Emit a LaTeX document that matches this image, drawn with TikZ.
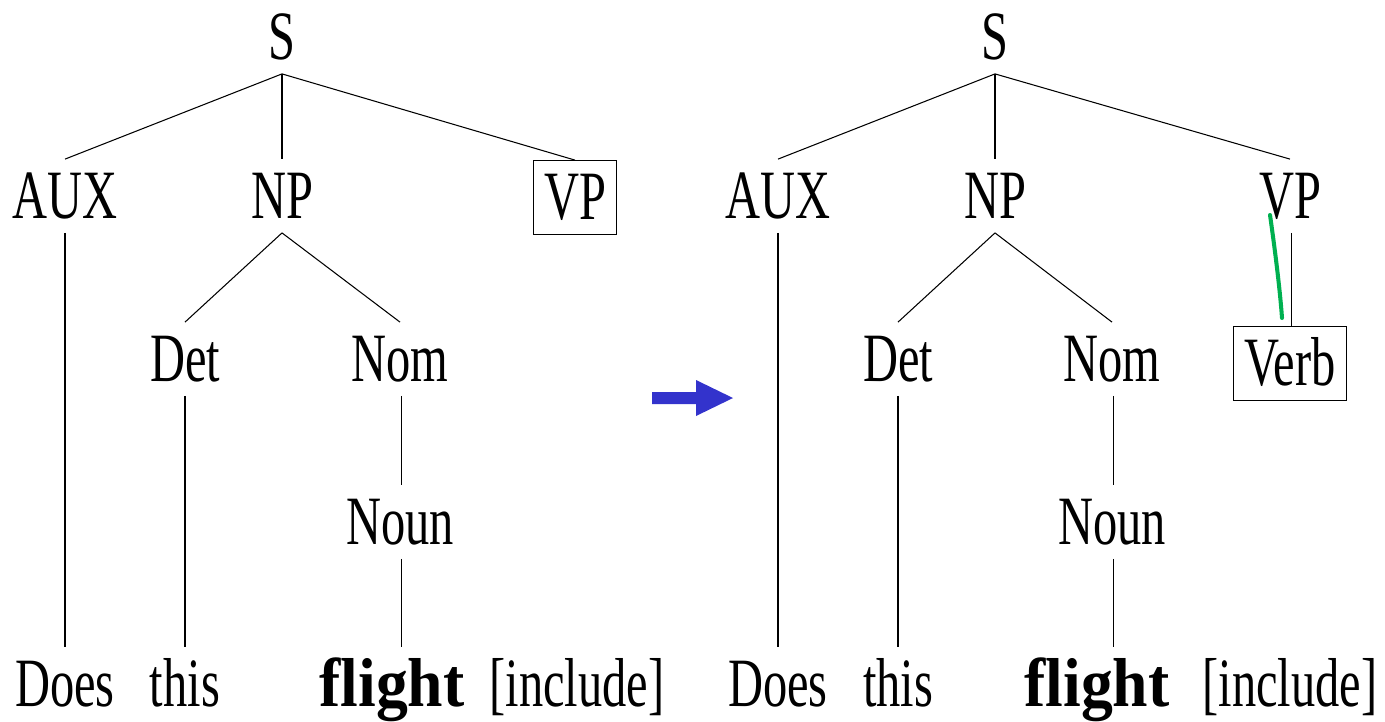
\documentclass[tikz,border=0pt]{standalone}
\usepackage{fontspec}
\setmainfont{Liberation Serif}[FakeStretch=0.7]
\newfontfamily\flightfont{Liberation Serif}[FakeStretch=0.92]
\usepackage{tikz}
\definecolor{arrowblue}{HTML}{3333CC}
\definecolor{penGreen}{HTML}{00B050}
\tikzstyle{cat} = [inner sep=0pt, outer sep=8pt, text height=26pt, text depth=0pt]
\tikzstyle{boxed} = [draw, inner xsep=6pt, inner ysep=8pt, outer sep=0pt, text height=26pt, text depth=0pt]
\tikzstyle{word} = [cat]
\tikzstyle{branch} = [line width=0.6pt]

\begin{document}
\begin{tikzpicture}[x=0.02cm, y=-0.02cm, font=\fontsize{39.4}{40}\selectfont]
  \useasboundingbox (0,0) rectangle (1385,721);

  % before
  \node (s) [cat] at (282,37) {S};
  \node (aux) [cat] at (65,196) {AUX};
  \node (np) [cat] at (282,196) {NP};
  \node (vp) [boxed] at (575,197) {VP};
  \node (det) [cat] at (185,359) {Det};
  \node (nom) [cat] at (400,359) {Nom};
  \node (noun) [cat] at (400,522) {Noun};
  \node (does) [word] at (65,684) {Does};
  \node (this) [word] at (185,684) {this};
  \node (flight) [word] at (392,684) {\flightfont\bfseries flight};
  \node (include) [word] at (577,684) {[include]};

  \draw [branch] (s.south) -- (aux.north);
  \draw [branch] (s.south) -- (np.north);
  \draw [branch] (s.south) -- (vp.north);
  \draw [branch] (aux.south) -- (does.north);
  \draw [branch] (np.south) -- (det.north);
  \draw [branch] (np.south) -- (nom.north);
  \draw [branch] (det.south) -- (this.north);
  \draw [branch] ([xshift=1pt]nom.south) -- ([xshift=1pt]noun.north);
  \draw [branch] ([xshift=1pt]noun.south) -- ([xshift=1pt]flight.north -| noun.south);

  % arrow
  \fill [arrowblue] (652,392) -- (696,392) -- (696,380) -- (733,398) -- (696,416) -- (696,404) -- (652,404) -- cycle;

  % after
  \node (s2) [cat] at (995,37) {S};
  \node (aux2) [cat] at (778,196) {AUX};
  \node (np2) [cat] at (995,196) {NP};
  \node (vp2) [cat] at (1290,196) {VP};
  \node (det2) [cat] at (898,359) {Det};
  \node (nom2) [cat] at (1112,359) {Nom};
  \node (verb2) [boxed] at (1290,363) {Verb};
  \node (noun2) [cat] at (1112,522) {Noun};
  \node (does2) [word] at (778,684) {Does};
  \node (this2) [word] at (898,684) {this};
  \node (flight2) [word] at (1097,684) {\flightfont\bfseries flight};
  \node (include2) [word] at (1290,684) {[include]};

  \draw [branch] (s2.south) -- (aux2.north);
  \draw [branch] (s2.south) -- (np2.north);
  \draw [branch] (s2.south) -- (vp2.north);
  \draw [branch] (aux2.south) -- (does2.north);
  \draw [branch] (np2.south) -- (det2.north);
  \draw [branch] (np2.south) -- (nom2.north);
  \draw [branch] (det2.south) -- (this2.north);
  \draw [branch] ([xshift=1pt]nom2.south) -- ([xshift=1pt]noun2.north);
  \draw [branch] ([xshift=1pt]noun2.south) -- ([xshift=1pt]flight2.north -| noun2.south);
  \draw [branch] ([xshift=1pt]vp2.south) -- ([xshift=1pt]verb2.north);

  % pen stroke
  \coordinate (penA) at (1270,215);
  \coordinate (penB) at (1282,318);
  \draw [penGreen, line width=2.3pt, line cap=round] (penA) .. controls (1275,250) and (1280,290) .. (penB);
\end{tikzpicture}
\end{document}
